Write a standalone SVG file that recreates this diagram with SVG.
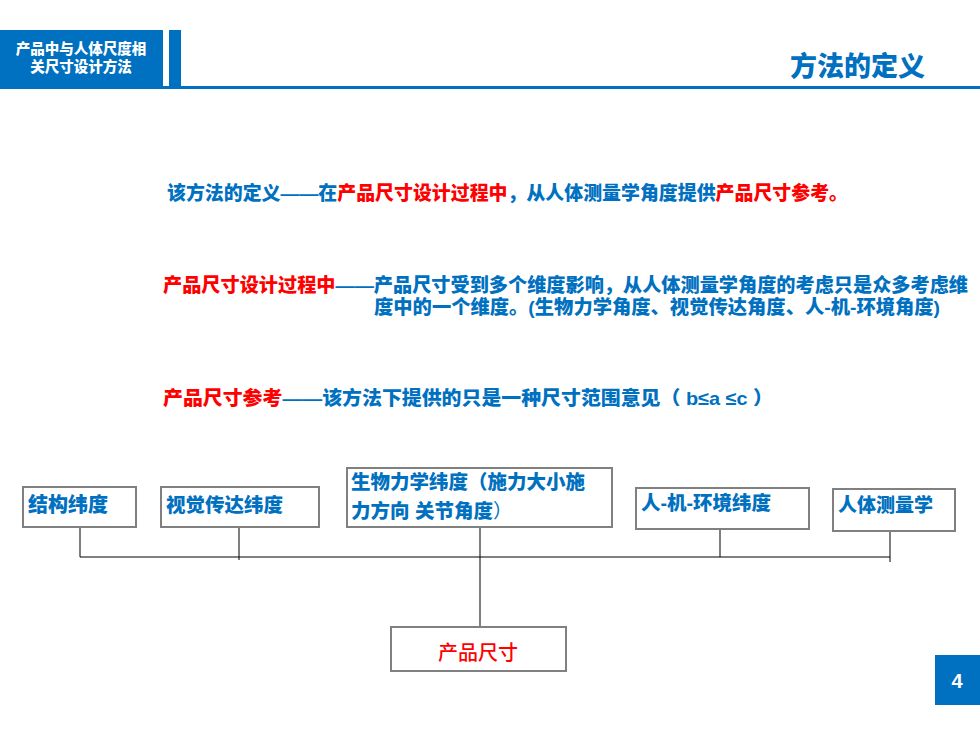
<svg xmlns="http://www.w3.org/2000/svg" width="980" height="735" viewBox="0 0 980 735">
<style>
.t{font-family:"Liberation Sans","Noto Sans CJK SC",sans-serif;font-weight:900}
.b{fill:#0070C0}
.r{fill:#FF0000}
.box{fill:#fff;stroke:#808080;stroke-width:2}
.ln{stroke:#000;stroke-width:1;fill:none}
</style>
<rect width="980" height="735" fill="#fff"/>
<g id="header">
<rect x="0" y="30" width="163" height="57" fill="#0070C0"/>
<rect x="169" y="30" width="12" height="57" fill="#0070C0"/>
<rect x="0" y="86" width="980" height="3" fill="#0070C0"/>
<text class="t" x="81" y="54" font-size="14.5" fill="#fff" text-anchor="middle">产品中与人体尺度相</text>
<text class="t" x="81" y="72" font-size="14.5" fill="#fff" text-anchor="middle">关尺寸设计方法</text>
<text class="t b" x="925" y="76" font-size="27" text-anchor="end">方法的定义</text>
</g>
<g id="text1">
<text class="t b" x="167" y="200" font-size="19" textLength="681" lengthAdjust="spacingAndGlyphs">该方法的定义——在<tspan class="r">产品尺寸设计过程中</tspan>，从人体测量学角度提供<tspan class="r">产品尺寸参考。</tspan></text>
</g>
<g id="text2">
<text class="t b" x="163" y="292" font-size="19" textLength="805" lengthAdjust="spacingAndGlyphs"><tspan class="r">产品尺寸设计过程中</tspan>——产品尺寸受到多个维度影响，从人体测量学角度的考虑只是众多考虑维</text>
<text class="t b" x="374" y="314" font-size="19" textLength="566" lengthAdjust="spacingAndGlyphs">度中的一个维度。(生物力学角度、视觉传达角度、人-机-环境角度)</text>
</g>
<g id="text3">
<text class="t b" x="163" y="405" font-size="19" textLength="610" lengthAdjust="spacingAndGlyphs"><tspan class="r">产品尺寸参考</tspan>——该方法下提供的只是一种尺寸范围意见（ b≤a ≤c ）</text>
</g>
<g id="connectors">
<line class="ln" x1="80" y1="527" x2="80" y2="557"/>
<line class="ln" x1="239" y1="527" x2="239" y2="560"/>
<line class="ln" x1="480" y1="527" x2="480" y2="627"/>
<line class="ln" x1="720" y1="529" x2="720" y2="557"/>
<line class="ln" x1="890" y1="531" x2="890" y2="562"/>
<line class="ln" x1="80" y1="557" x2="890" y2="557"/>
</g>
<g id="node1">
<rect class="box" x="23" y="487" width="113" height="40"/>
<text class="t b" x="28" y="512" font-size="20">结构纬度</text>
</g>
<g id="node2">
<rect class="box" x="161" y="487" width="158" height="40"/>
<text class="t b" x="166" y="512" font-size="19.5">视觉传达纬度</text>
</g>
<g id="node3">
<rect class="box" x="347" y="468" width="265" height="59"/>
<text class="t b" x="351" y="489" font-size="19.5">生物力学纬度（施力大小施</text>
<text class="t b" x="351" y="518" font-size="19.5">力方向 关节角度<tspan font-weight="normal">）</tspan></text>
</g>
<g id="node4">
<rect class="box" x="636" y="488" width="173" height="41"/>
<text class="t b" x="641" y="510" font-size="19.5">人-机-环境纬度</text>
</g>
<g id="node5">
<rect class="box" x="833" y="489" width="122" height="42"/>
<text class="t b" x="838" y="512" font-size="19">人体测量学</text>
</g>
<g id="node6">
<rect class="box" x="391" y="627" width="175" height="44"/>
<text x="478" y="660" font-size="20" fill="#FF0000" text-anchor="middle" font-weight="500" font-family="'Liberation Sans','Noto Sans CJK SC',sans-serif">产品尺寸</text>
</g>
<g id="page">
<rect x="935" y="655" width="45" height="50" fill="#0070C0"/>
<text class="t" x="957" y="688" font-size="20" fill="#fff" text-anchor="middle">4</text>
</g>
</svg>
